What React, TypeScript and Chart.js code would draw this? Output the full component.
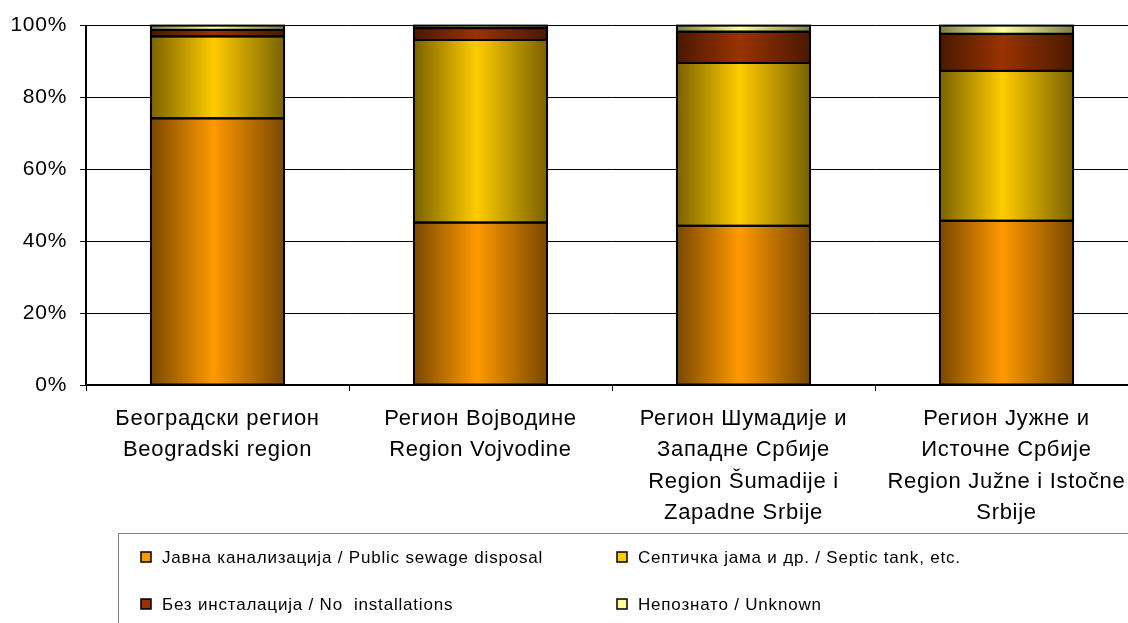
import React, { useEffect, useRef } from "react";
import { Chart, registerables } from "chart.js";

Chart.register(...registerables);

const categories: string[][] = [
  ["Београдски регион", "Beogradski region"],
  ["Регион Војводине", "Region Vojvodine"],
  ["Регион Шумадије и", "Западне Србије", "Region Šumadije i", "Zapadne Srbije"],
  ["Регион Јужне и", "Источне Србије", "Region Južne i Istočne", "Srbije"],
];

const seriesLabels = [
  "Јавна канализација / Public sewage disposal",
  "Септичка јама и др. / Septic tank, etc.",
  "Без инсталација / No  installations",
  "Непознато / Unknown",
];

const publicSewage = [74.2, 45.2, 44.3, 45.7];
const septicTank = [22.8, 50.8, 45.3, 41.7];
const noInstallations = [1.8, 3.3, 8.7, 10.3];
const unknown = [1.2, 0.7, 1.7, 2.3];

const yTicks = [0, 20, 40, 60, 80, 100];

const palette = [
  { bright: "#FF9900", dark: "#7A4800", mid: "#FF9900" },
  { bright: "#FFCC00", dark: "#7A6200", mid: "#FFCC00" },
  { bright: "#993300", dark: "#4A1800", mid: "#993300" },
  { bright: "#FFFF99", dark: "#7E7E4A", mid: "#FFFF99" },
];

const BAR_PCT = 0.506;
const FONT = "'Liberation Sans', Arial, sans-serif";

const spacingPlugin = {
  id: "spacing",
  beforeDraw(chart: any) {
    (chart.ctx as any).letterSpacing = "0.7px";
  },
};

const outlinePlugin = {
  id: "outline",
  afterDatasetsDraw(chart: any) {
    const ctx = chart.ctx as CanvasRenderingContext2D;
    ctx.save();
    ctx.strokeStyle = "#000";
    ctx.lineWidth = 2;
    chart.data.datasets.forEach((_ds: any, di: number) => {
      const meta = chart.getDatasetMeta(di);
      meta.data.forEach((el: any) => {
        const p = el.getProps(["x", "y", "base", "width"], true);
        const left = p.x - p.width / 2;
        const top = Math.min(p.y, p.base);
        const h = Math.abs(p.base - p.y);
        ctx.strokeRect(left, top, p.width, h);
      });
    });
    ctx.restore();
  },
};

const legendPlugin = {
  id: "boxLegend",
  afterDraw(chart: any) {
    const ctx = chart.ctx as CanvasRenderingContext2D;
    ctx.save();
    (ctx as any).letterSpacing = "0.8px";
    ctx.strokeStyle = "#808080";
    ctx.lineWidth = 1;
    ctx.strokeRect(118.5, 533.5, 1100, 120);
    const cols = [146, 622];
    const rows = [557, 604];
    ctx.font = `17px ${FONT}`;
    ctx.textBaseline = "middle";
    chart.data.datasets.forEach((ds: any, i: number) => {
      const x = cols[i % 2];
      const y = rows[Math.floor(i / 2)];
      ctx.fillStyle = palette[i].mid;
      ctx.fillRect(x - 5, y - 5, 10, 10);
      ctx.strokeStyle = "#000";
      ctx.lineWidth = 1.5;
      ctx.strokeRect(x - 5, y - 5, 10, 10);
      ctx.fillStyle = "#000";
      ctx.fillText(ds.label, x + 16, y + 1);
    });
    ctx.restore();
  },
};

export default function App() {
  const ref = useRef<HTMLCanvasElement | null>(null);

  useEffect(() => {
    if (!ref.current) return;
    const data = [publicSewage, septicTank, noInstallations, unknown];
    const chart = new Chart(ref.current, {
      type: "bar",
      data: {
        labels: categories,
        datasets: data.map((values, i) => ({
          label: seriesLabels[i],
          data: values,
          borderWidth: 0,
          barPercentage: BAR_PCT,
          categoryPercentage: 1,
          backgroundColor: (c: any) => {
            const ch = c.chart;
            const xs = ch.scales && ch.scales.x;
            if (!xs || c.dataIndex === undefined) return palette[i].mid;
            const center = xs.getPixelForValue(c.dataIndex);
            const half = ((xs.getPixelForValue(1) - xs.getPixelForValue(0)) * BAR_PCT) / 2;
            if (!isFinite(center) || !isFinite(half)) return palette[i].mid;
            const g = ch.ctx.createLinearGradient(center - half, 0, center + half, 0);
            g.addColorStop(0, palette[i].dark);
            g.addColorStop(0.47, palette[i].bright);
            g.addColorStop(1, palette[i].dark);
            return g;
          },
        })),
      },
      options: {
        animation: false,
        responsive: false,
        maintainAspectRatio: false,
        layout: { padding: { top: 24, right: 12, left: 0, bottom: 0 } },
        plugins: {
          legend: { display: false },
          tooltip: { enabled: false },
        },
        scales: {
          x: {
            stacked: true,
            afterFit: (s: any) => {
              s.height = 623 - 385;
            },
            grid: {
              drawOnChartArea: false,
              drawTicks: true,
              tickLength: 6,
              color: "#000",
              offset: true,
            },
            border: { color: "#000", width: 2 },
            ticks: {
              color: "#000",
              font: { family: FONT, size: 22, lineHeight: 1.43 },
              padding: 12,
              maxRotation: 0,
              autoSkip: false,
            },
          },
          y: {
            stacked: true,
            min: 0,
            max: 100,
            afterFit: (s: any) => {
              s.width = 86;
            },
            afterBuildTicks: (s: any) => {
              s.ticks = yTicks.map((v) => ({ value: v }));
            },
            grid: {
              color: "#000",
              lineWidth: 1,
              tickLength: 6,
            },
            border: { color: "#000", width: 2 },
            ticks: {
              color: "#000",
              font: { family: FONT, size: 21 },
              padding: 13,
              callback: (v: any) => `${v}%`,
            },
          },
        },
      },
      plugins: [spacingPlugin, outlinePlugin, legendPlugin],
    });
    return () => chart.destroy();
  }, []);

  return (
    <div
      style={{
        position: "fixed",
        left: 0,
        top: 0,
        width: 1128,
        height: 623,
        overflow: "hidden",
        background: "#fff",
      }}
    >
      <canvas ref={ref} width={1150} height={623} style={{ width: 1150, height: 623, display: "block" }} />
    </div>
  );
}
